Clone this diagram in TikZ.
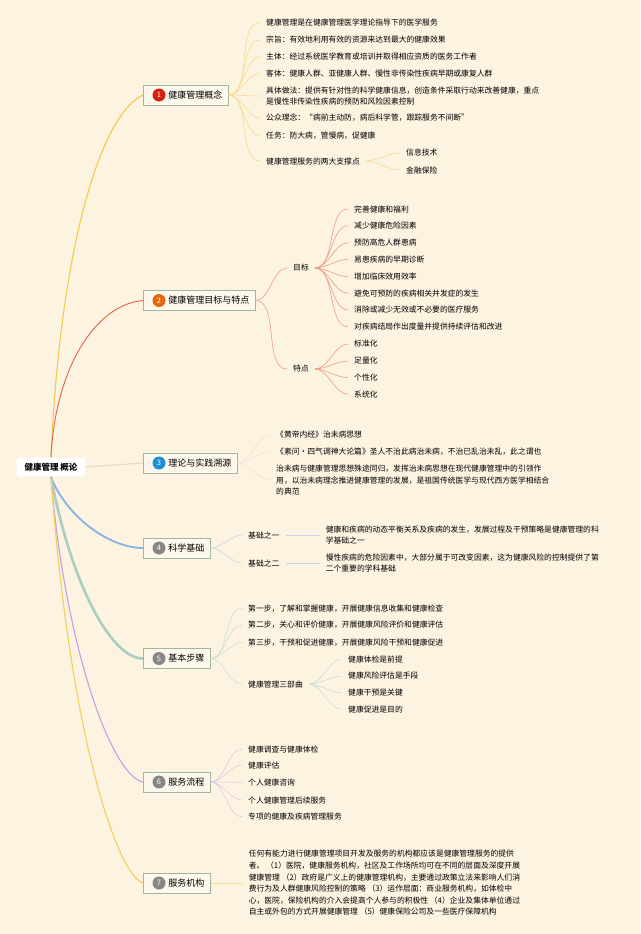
\documentclass[tikz,border=0pt]{standalone}
\usepackage{fontspec}
\setmainfont{Noto Sans CJK SC}
\usepackage{tikz}
\usetikzlibrary{positioning}
\usepackage{xcolor}
\definecolor{bgCream}{HTML}{FCF3E1}
\definecolor{topicFill}{HTML}{FEF8EC}
\definecolor{topicLine}{HTML}{9FB89F}
\definecolor{dotRed}{HTML}{D4200F}
\definecolor{dotOrange}{HTML}{E5670F}
\definecolor{dotBlue}{HTML}{1E8ED6}
\definecolor{dotGray}{HTML}{868686}
\definecolor{brYellow}{HTML}{F5C84C}
\definecolor{brRed}{HTML}{E3654A}
\definecolor{brSand}{HTML}{E6DACB}
\definecolor{brBlue}{HTML}{88B2DF}
\definecolor{brSage}{HTML}{AACFC0}
\definecolor{brPurple}{HTML}{C89EE0}
\definecolor{brGold}{HTML}{F7CE5C}
\definecolor{twYellow}{HTML}{F6DB8E}
\definecolor{twRed}{HTML}{EE9C86}
\definecolor{twSand}{HTML}{EEE3D5}
\definecolor{twBlue}{HTML}{C3D8EE}
\definecolor{twSage}{HTML}{CCDDD5}
\definecolor{twPurple}{HTML}{DCCBEA}

\newcommand{\leaffont}{\fontsize{7.8}{11.6}\selectfont}
\newcommand{\topicfont}{\fontsize{9}{11}\selectfont}
\newcommand{\rootfont}{\fontsize{8.5}{10}\selectfont}

\begin{document}
\begin{tikzpicture}[
    x=1pt, y=-1pt,
    rootbox/.style={fill=white, rounded corners=4pt, minimum height=19pt,
                    inner xsep=8pt, font=\rootfont\bfseries},
    topic/.style={rectangle, draw=topicLine, fill=topicFill, line width=0.6pt,
                  anchor=west, minimum height=20pt, inner xsep=6pt, font=\topicfont},
    numdot/.style={circle, inner sep=0pt, minimum size=13pt, text=white,
                   font=\fontsize{7.5}{8}\selectfont},
    leaf/.style={anchor=west, inner xsep=6pt, inner ysep=1pt, align=left, font=\leaffont},
    trunk/.style={line width=1.1pt},
    twig/.style={line width=0.6pt},
    curl/.style={out=0, in=180, looseness=0.8},
]
    \useasboundingbox[fill=bgCream] (0,0) rectangle (640,934);

    \node[rootbox] (root) at (51,467) {健康管理 概论};

    % main topics
    \node[topic] (concept) at (143,95) {\hspace{19pt}健康管理概念};
    \node[numdot, fill=dotRed] (concept-no) at ([xshift=16pt]concept.west) {1};
    \node[topic] (goal) at (143,300.5) {\hspace{19pt}健康管理目标与特点};
    \node[numdot, fill=dotOrange] (goal-no) at ([xshift=16pt]goal.west) {2};
    \node[topic] (origin) at (143,463) {\hspace{19pt}理论与实践溯源};
    \node[numdot, fill=dotBlue] (origin-no) at ([xshift=16pt]origin.west) {3};
    \node[topic] (basis) at (143,548) {\hspace{19pt}科学基础};
    \node[numdot, fill=dotGray] (basis-no) at ([xshift=16pt]basis.west) {4};
    \node[topic] (steps) at (143,658.5) {\hspace{19pt}基本步骤};
    \node[numdot, fill=dotGray] (steps-no) at ([xshift=16pt]steps.west) {5};
    \node[topic] (flow) at (143,782) {\hspace{19pt}服务流程};
    \node[numdot, fill=dotGray] (flow-no) at ([xshift=16pt]flow.west) {6};
    \node[topic] (inst) at (143,883) {\hspace{19pt}服务机构};
    \node[numdot, fill=dotGray] (inst-no) at ([xshift=16pt]inst.west) {7};

    \draw[trunk, brYellow] (root.north) .. controls +(9,-207) and +(-43,20) .. (concept.west);
    \draw[trunk, brRed, line width=0.9pt] (root.north) .. controls +(4,-88) and +(-48,4) .. (goal.west);
    \draw[trunk, brSand] (root.east) -- (origin.west);
    \draw[trunk, brBlue, line width=1.8pt] (root.south) .. controls +(14,38) and +(-35,0) .. (basis.west);
    \draw[trunk, brSage, line width=2.6pt] (root.south) .. controls +(19,103) and +(-33,0) .. (steps.west);
    \draw[trunk, brPurple] (root.south) .. controls +(13,163) and +(-33,-7) .. (flow.west);
    \draw[trunk, brGold] (root.south) .. controls +(19,263) and +(-25,-8) .. (inst.west);

    % 1
    \node[leaf] (con1) at (260,22.7) {健康管理是在健康管理医学理论指导下的医学服务};
    \node[leaf] (con2) at (260,40) {宗旨：有效地利用有效的资源来达到最大的健康效果};
    \node[leaf] (con3) at (260,56.7) {主体：经过系统医学教育或培训并取得相应资质的医务工作者};
    \node[leaf] (con4) at (260,73.3) {客体：健康人群、亚健康人群、慢性非传染性疾病早期或康复人群};
    \node[leaf] (con5) at (260,96) {具体做法：提供有针对性的科学健康信息，创造条件采取行动来改善健康，重点\\是慢性非传染性疾病的预防和风险因素控制};
    \node[leaf] (con6) at (260,118) {公众理念：“病前主动防，病后科学管，跟踪服务不间断”};
    \node[leaf] (con7) at (260,135.5) {任务：防大病，管慢病，促健康};
    \node[leaf] (con8) at (260,161) {健康管理服务的两大支撑点};
    \node[leaf] (con8a) at (400,153) {信息技术};
    \node[leaf] (con8b) at (400,170) {金融保险};
    \draw[twig, twYellow] (concept.east) edge[curl] (con1.west) edge[curl] (con2.west)
        edge[curl] (con3.west) edge[curl] (con4.west) edge[curl] (con5.west)
        edge[curl] (con6.west) edge[curl] (con7.west) edge[curl] (con8.west);
    \draw[twig, twYellow] (con8.east) edge[curl] (con8a.west) edge[curl] (con8b.west);

    % 2
    \node[leaf] (aim) at (287,268) {目标};
    \node[leaf] (trait) at (287,369) {特点};
    \node[leaf] (aim1) at (348,209) {完善健康和福利};
    \node[leaf] (aim2) at (348,225.7) {减少健康危险因素};
    \node[leaf] (aim3) at (348,242.7) {预防高危人群患病};
    \node[leaf] (aim4) at (348,259.3) {易患疾病的早期诊断};
    \node[leaf] (aim5) at (348,276.7) {增加临床效用效率};
    \node[leaf] (aim6) at (348,293.3) {避免可预防的疾病相关并发症的发生};
    \node[leaf] (aim7) at (348,310) {消除或减少无效或不必要的医疗服务};
    \node[leaf] (aim8) at (348,326.7) {对疾病结局作出度量并提供持续评估和改进};
    \node[leaf] (trait1) at (348,344) {标准化};
    \node[leaf] (trait2) at (348,361) {足量化};
    \node[leaf] (trait3) at (348,377.7) {个性化};
    \node[leaf] (trait4) at (348,394.3) {系统化};
    \draw[twig, twRed] (goal.east) edge[curl] (aim.west) edge[curl] (trait.west);
    \draw[twig, twRed] (aim.east) edge[curl] (aim1.west) edge[curl] (aim2.west)
        edge[curl] (aim3.west) edge[curl] (aim4.west) edge[curl] (aim5.west)
        edge[curl] (aim6.west) edge[curl] (aim7.west) edge[curl] (aim8.west);
    \draw[twig, twRed] (trait.east) edge[curl] (trait1.west) edge[curl] (trait2.west)
        edge[curl] (trait3.west) edge[curl] (trait4.west);

    % 3
    \node[leaf] (ori1) at (270,435) {《黄帝内经》治未病思想};
    \node[leaf] (ori2) at (270,452) {《素问·四气调神大论篇》圣人不治此病治未病，不治已乱治未乱，此之谓也};
    \node[leaf] (ori3) at (270,480) {治未病与健康管理思想殊途同归，发挥治未病思想在现代健康管理中的引领作\\用，以治未病理念推进健康管理的发展，是祖国传统医学与现代西方医学相结合\\的典范};
    \draw[twig, twSand] (origin.east) edge[curl] (ori1.west) edge[curl] (ori2.west)
        edge[curl] (ori3.west);

    % 4
    \node[leaf] (base1) at (242,535) {基础之一};
    \node[leaf] (base2) at (242,563) {基础之二};
    \node[leaf, right=34pt of base1] (base1txt) {健康和疾病的动态平衡关系及疾病的发生，发展过程及干预策略是健康管理的科\\学基础之一};
    \node[leaf, right=34pt of base2] (base2txt) {慢性疾病的危险因素中，大部分属于可改变因素，这为健康风险的控制提供了第\\二个重要的学科基础};
    \draw[twig, twBlue] (basis.east) edge[curl] (base1.west) edge[curl] (base2.west);
    \draw[twig, twBlue] (base1) -- (base1txt);
    \draw[twig, twBlue] (base2) -- (base2txt);

    % 5
    \node[leaf] (step1) at (242,608.3) {第一步，了解和掌握健康，开展健康信息收集和健康检查};
    \node[leaf] (step2) at (242,625) {第二步，关心和评价健康，开展健康风险评价和健康评估};
    \node[leaf] (step3) at (242,642.3) {第三步，干预和促进健康，开展健康风险干预和健康促进};
    \node[leaf] (trilogy) at (242,684.3) {健康管理三部曲};
    \node[leaf] (tri1) at (342,659) {健康体检是前提};
    \node[leaf] (tri2) at (342,676) {健康风险评估是手段};
    \node[leaf] (tri3) at (342,692.7) {健康干预是关键};
    \node[leaf] (tri4) at (342,709.3) {健康促进是目的};
    \draw[twig, twSage] (steps.east) edge[curl] (step1.west) edge[curl] (step2.west)
        edge[curl] (step3.west) edge[curl] (trilogy.west);
    \draw[twig, twSage] (trilogy.east) edge[curl] (tri1.west) edge[curl] (tri2.west)
        edge[curl] (tri3.west) edge[curl] (tri4.west);

    % 6
    \node[leaf] (flow1) at (242,749) {健康调查与健康体检};
    \node[leaf] (flow2) at (242,765) {健康评估};
    \node[leaf] (flow3) at (242,782.3) {个人健康咨询};
    \node[leaf] (flow4) at (242,800) {个人健康管理后续服务};
    \node[leaf] (flow5) at (242,816.7) {专项的健康及疾病管理服务};
    \draw[twig, twPurple] (flow.east) edge[curl] (flow1.west) edge[curl] (flow2.west)
        edge[curl] (flow3.west) edge[curl] (flow4.west) edge[curl] (flow5.west);

    % 7
    \node[leaf, right=32pt of inst] (insttxt) {任何有能力进行健康管理项目开发及服务的机构都应该是健康管理服务的提供\\者。 （1）医院，健康服务机构，社区及工作场所均可在不同的层面及深度开展\\健康管理 （2）政府是广义上的健康管理机构，主要通过政策立法来影响人们消\\费行为及人群健康风险控制的策略 （3）运作层面：商业服务机构，如体检中\\心，医院，保险机构的介入会提高个人参与的积极性 （4）企业及集体单位通过\\自主或外包的方式开展健康管理 （5）健康保险公司及一些医疗保障机构};
    \draw[twig, twYellow] (inst) -- (insttxt);
\end{tikzpicture}
\end{document}
